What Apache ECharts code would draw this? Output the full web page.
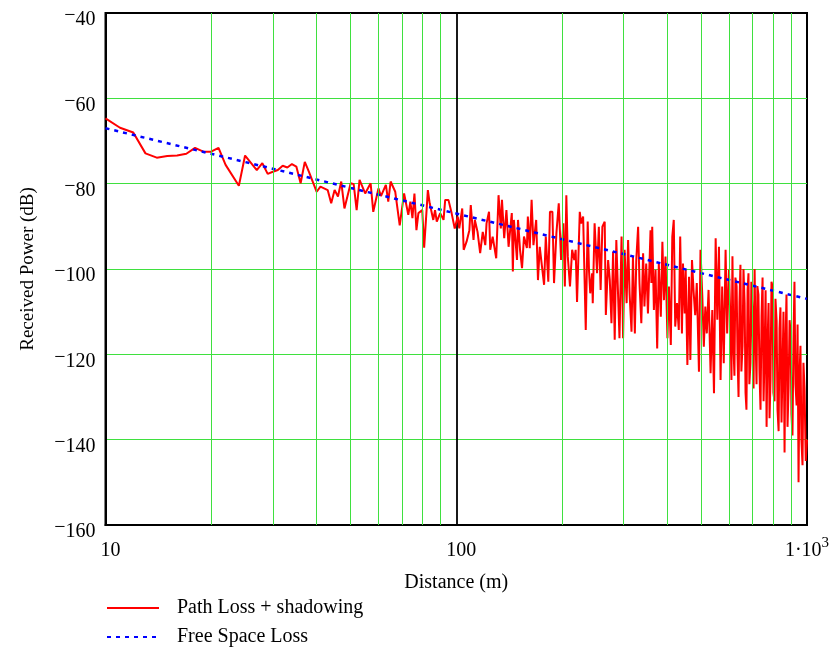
<!DOCTYPE html>
<html><head><meta charset="utf-8">
<script src="https://cdn.jsdelivr.net/npm/echarts@6/dist/echarts.min.js"></script>
<style>html,body{margin:0;padding:0;background:#fff}#c{width:832px;height:650px}</style>
</head><body><div id="c"></div>
<script>
// Path loss + shadowing: distance (m) and received power (dB)
const pathDist = [
  10,11,12,13,14,15,16,17,18,19,
  20,21,22,24,25,27,28,29,30,31,
  32,33,34,35,36,37,38,40,41,43,
  44,45,46,47,48,50,51,52,53,55,
  57,58,60,61,63,64,65,67,69,71,
  73,74,75,76,77,78,80,81,83,84,
  86,87,88,90,92,93,95,97,99,101,
  102,104,105,107,109,110,112,113,115,117,
  119,121,122,124,125,127,130,132,134,135,
  137,139,141,144,145,146,149,150,152,154,
  156,159,160,162,164,166,169,171,173,176,
  178,180,183,185,188,190,193,196,199,202,
  204,206,208,211,214,217,219,221,225,227,
  230,234,237,239,241,244,245,248,252,255,
  258,261,265,267,271,274,277,280,283,286,
  289,292,296,299,302,306,309,312,316,319,
  323,326,330,333,337,341,344,348,352,358,
  360,362,366,370,374,378,383,387,391,395,
  400,404,409,413,417,421,426,431,435,440,
  443,448,451,456,461,465,470,475,480,485,
  492,497,503,508,513,518,524,531,537,543,
  549,555,561,567,573,579,586,592,599,
  605,609,613,617,621,625,630,634,638,642,
  646,650,655,659,664,668,672,677,681,685,
  690,694,699,704,709,713,718,722,727,732,
  737,742,747,752,757,762,767,772,777,782,
  787,792,797,802,808,813,819,824,830,835,
  840,846,852,857,863,868,874,880,886,892,
  898,903,909,915,921,927,934,940,946,952,
  958,964,971,977,984,992,1000
];
const pathDb = [
  -64.7,-66.9,-68.0,-72.9,-73.9,-73.5,-73.4,-73.0,-71.6,-72.5,
  -72.5,-71.6,-75.6,-80.5,-73.4,-76.8,-75.2,-77.7,-77.2,-76.8,
  -75.8,-76.2,-75.4,-76.0,-79.9,-74.9,-77.2,-81.9,-80.7,-81.5,
  -84.6,-81.5,-83.0,-79.5,-85.8,-79.9,-80.1,-86.2,-79.1,-82.3,
  -79.9,-86.6,-81.1,-82.9,-80.3,-84.2,-79.5,-81.9,-89.8,-82.3,
  -87.3,-84.2,-88.1,-82.3,-90.9,-86.9,-86.2,-95.0,-81.5,-84.6,
  -88.5,-86.2,-88.9,-86.9,-88.5,-83.8,-83.8,-86.9,-90.5,-87.7,
  -90.5,-85.8,-95.5,-93.6,-90.9,-85.0,-93.2,-88.5,-91.3,-96.3,
  -91.3,-94.4,-89.3,-86.6,-95.5,-92.4,-97.5,-82.7,-90.5,-83.8,
  -92.8,-86.2,-94.8,-86.9,-100.6,-88.5,-97.9,-88.5,-95.5,-99.8,
  -92.4,-95.1,-87.7,-95.1,-83.8,-94.4,-88.5,-102.6,-94.8,-100.2,
  -103.7,-92.4,-103.0,-86.6,-86.6,-103.3,-91.6,-84.6,-97.9,-89.3,
  -104.1,-82.7,-97.1,-104.1,-95.5,-97.9,-95.5,-107.7,-86.6,-89.3,
  -87.7,-114.3,-88.9,-100.2,-105.7,-101.0,-108.0,-89.3,-101.0,-90.1,
  -104.9,-90.1,-88.9,-110.8,-97.9,-102.6,-112.7,-95.9,-116.6,-93.2,
  -104.9,-116.2,-92.4,-116.2,-95.5,-108.0,-93.2,-105.7,-114.7,-97.1,
  -115.1,-97.9,-90.1,-103.3,-112.7,-96.3,-108.8,-98.7,-110.4,-90.9,
  -103.3,-90.1,-109.6,-100.2,-118.6,-98.7,-111.2,-93.6,-107.3,-97.1,
  -116.2,-104.1,-117.8,-92.4,-88.5,-113.5,-108.0,-114.3,-92.4,-115.1,
  -98.7,-110.4,-100.2,-122.5,-101.8,-121.3,-97.9,-105.3,-110.8,-103.3,
  -124.1,-95.5,-106.5,-118.2,-108.8,-115.1,-104.9,-124.4,-109.6,-129.1,
  -92.8,-111.9,-94.8,-126.0,-104.1,-122.1,-95.5,-115.1,-100.2,
  -112,-126,-97,-118,-125,-102,-104,-121,-130,-108,
  -99,-124,-118,-100,-108,-129,-133,-105,-101,-127,
  -122,-103,-110,-128,-100,-115,-127,-104,-106,-124,
  -133,-111,-102,-131,-120,-105,-137,-117,-108,-135,
  -126,-103,-104,-129,-131,-107,-112,-133,-138,-114,
  -109,-136,-122,-110,-143,-118,-106,-137,-128,-112,
  -115,-134,-139,-117,-103,-127,-132,-113,-150,-125,
  -118,-140,-146,-122,-128,-145,-140
];
// Free space loss
const fsDist = [10,20,30,50,100,200,300,500,1000];
const fsDb = [-67,-73,-76.5,-81,-87,-93,-96.5,-101,-107];
// Grid lines and tick labels
const xMinorGrid = [20,30,40,50,60,70,80,90,200,300,400,500,600,700,800,900];
const xTickLabels = {10:'{p|10}', 100:'{p|100}', 1000:'{b|1·10}{s|3}'};
const yTickLabels = {'-40':'40','-60':'60','-80':'80','-100':'100','-120':'120','-140':'140','-160':'160'};
const seriesNames = ['Path Loss + shadowing','Free Space Loss'];

const FONT = 'Liberation Serif';
const GREEN = '#3fe03f';
const chart = echarts.init(document.getElementById('c'), null, {renderer:'canvas'});
chart.setOption({
  backgroundColor:'#fff',
  animation:false,
  grid:{left:105.5, right:25, top:13, bottom:125, show:true, borderColor:'#000', borderWidth:2,
    backgroundColor:'transparent', containLabel:false, outerBoundsMode:'none'},
  legend:{
    data:seriesNames, orient:'vertical', left:106, top:598, padding:0,
    itemWidth:52, itemHeight:20, itemGap:9,
    itemStyle:{opacity:0},
    textStyle:{fontFamily:FONT, fontSize:20, color:'#000', padding:[0,0,0,13], lineHeight:20}
  },
  xAxis:{
    type:'log', logBase:10, min:10, max:1000,
    name:'Distance (m)', nameLocation:'middle', nameGap:48,
    nameTextStyle:{fontFamily:FONT, fontSize:20, color:'#000'},
    axisLine:{show:true, lineStyle:{color:'#000', width:2}},
    axisTick:{show:false},
    axisLabel:{margin:11, fontFamily:FONT, fontSize:20, color:'#000',
      formatter:v=>xTickLabels[Math.round(v)] || '',
      rich:{
        p:{fontFamily:FONT, fontSize:20, color:'#000', lineHeight:30, padding:[0,0,0,10]},
        b:{fontFamily:FONT, fontSize:20, color:'#000', lineHeight:30},
        s:{fontFamily:FONT, fontSize:15, color:'#000', lineHeight:15, verticalAlign:'top', padding:[0,0,15,0]}
      }},
    splitLine:{show:true, showMinLine:false, showMaxLine:false, lineStyle:{color:'#000', width:1.8}},
    minorTick:{show:false}, minorSplitLine:{show:false}
  },
  yAxis:{
    type:'value', min:-160, max:-40, interval:20,
    name:'Received Power (dB)', nameLocation:'middle', nameGap:68,
    nameTextStyle:{fontFamily:FONT, fontSize:19, color:'#000'},
    axisLine:{show:true, lineStyle:{color:'#000', width:2}},
    axisTick:{show:false},
    axisLabel:{margin:10, fontFamily:FONT, fontSize:20, color:'#000',
      formatter:v=>'{m|−}{d|' + (yTickLabels[String(v)] || String(Math.abs(v))) + '}',
      rich:{
        m:{fontFamily:FONT, fontSize:20, color:'#000', lineHeight:20, padding:[10,0,4,0]},
        d:{fontFamily:FONT, fontSize:20, color:'#000', lineHeight:20, padding:[14,0,0,0]}
      }},
    splitLine:{show:true, showMinLine:false, showMaxLine:false, lineStyle:{color:GREEN, width:1}}
  },
  series:[
    {
      type:'line', z:1, data:[], silent:true, symbol:'none',
      markLine:{silent:true, symbol:'none', animation:false, label:{show:false},
        lineStyle:{color:GREEN, type:'solid', width:1},
        data:xMinorGrid.map(v=>({xAxis:v}))}
    },
    {
      name:seriesNames[0], type:'line', z:3, symbol:'none', showSymbol:false,
      lineStyle:{color:'#ff0000', width:2}, itemStyle:{color:'#ff0000'},
      data:pathDist.map((d,i)=>[d,pathDb[i]])
    },
    {
      name:seriesNames[1], type:'line', z:4, symbol:'none', showSymbol:false,
      lineStyle:{color:'#0000ff', width:2.5, type:[4,5]}, itemStyle:{color:'#0000ff'},
      data:fsDist.map((d,i)=>[d,fsDb[i]])
    }
  ]
});
</script></body></html>
